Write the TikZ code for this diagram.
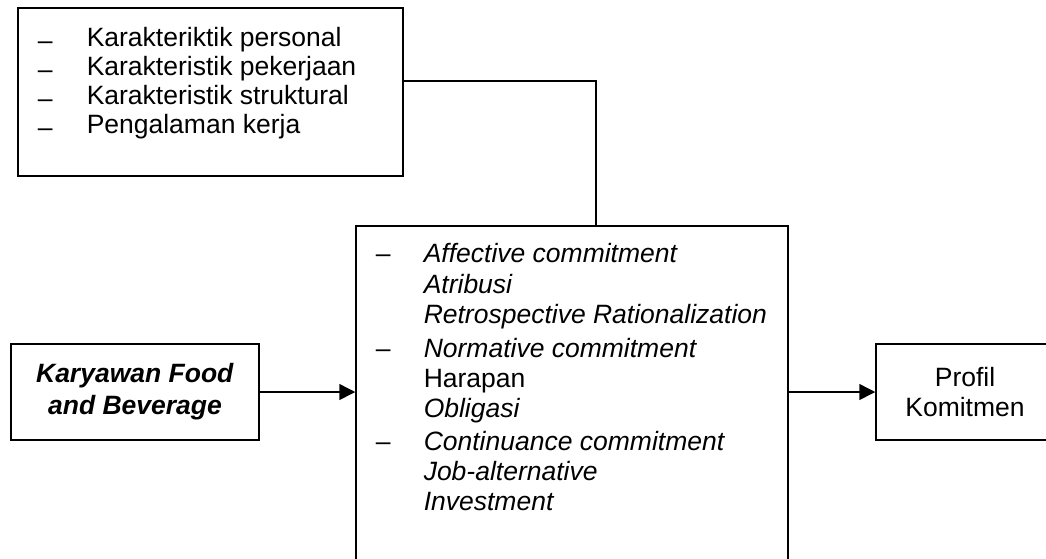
\documentclass[tikz,border=0pt]{standalone}
\usepackage{fontspec}
\setmainfont{Liberation Sans}
\usetikzlibrary{arrows.meta}

\begin{document}
\begin{tikzpicture}[x=1pt, y=-1pt, line width=1.5pt,
  box/.style={draw, inner sep=0pt, align=center, font=\fontsize{26.5}{29}\selectfont},
  item/.style={anchor=base west, inner sep=0pt, font=\fontsize{26.5}{29}\selectfont},
  arrow/.style={-{Triangle[length=16pt, width=16pt]}}]
\useasboundingbox (0,0) rectangle (1046,558);
\clip (0,0) rectangle (1046,558);

% boxes
\node[box, minimum width=385, minimum height=168] (faktor) at (210.5,92) {};
\node[box, minimum width=432, minimum height=400] (komitmen) at (572,426) {};
\node[box, minimum width=248, minimum height=96] (karyawan) at (135,392) {\textbf{\textit{Karyawan Food}}\\[3pt]\textbf{\textit{and Beverage}}};
\node[box, minimum width=200, minimum height=96] (profil) at (976,392) {};
\node[box, draw=none] (profil-teks) at (965,392) {Profil\\[1pt]Komitmen};

% top list
\foreach \txt [count=\i] in {Karakteriktik personal, Karakteristik pekerjaan, Karakteristik struktural, Pengalaman kerja} {
  \node[item] (strip-\i) at (37,17+29*\i) {\raisebox{-3.5pt}{--}};
  \node[item] (faktor-\i) at (86,17+29*\i) {\txt};
}

% middle list
\foreach \y in {262, 357, 450} \node[item] (tanda-\y) at (375,\y) {--};
\foreach \y/\txt [count=\i] in {262/\textit{Affective commitment}, 293/\textit{Atribusi}, 323/\textit{Retrospective Rationalization}, 357/\textit{Normative commitment}, 387/Harapan, 417/\textit{Obligasi}, 450/\textit{Continuance commitment}, 480/\textit{Job-alternative}, 510/\textit{Investment}}
  \node[item] (dimensi-\i) at (423,\y) {\txt};

% connectors
\draw ([yshift=11pt]faktor.east) -| ([xshift=24pt]komitmen.north);
\draw[arrow] (karyawan.east) -- (karyawan.east -| komitmen.west);
\draw[arrow] (komitmen.east |- profil.west) -- (profil.west);

\end{tikzpicture}
\end{document}
